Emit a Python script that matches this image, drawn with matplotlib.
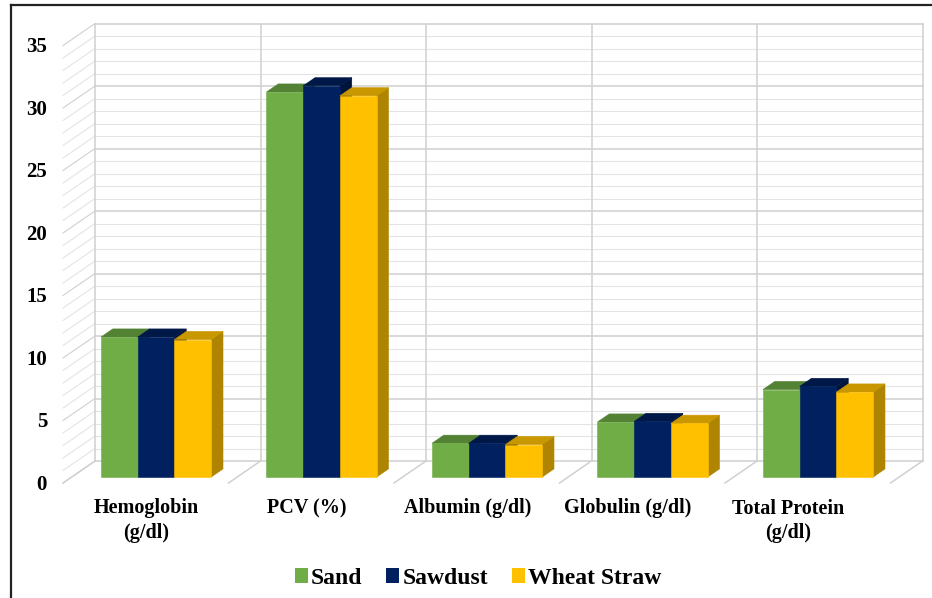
"""
Blood parameters by bedding material: Excel-style 3D clustered column chart,
drawn with plain matplotlib patches on an oblique projection.
"""

import matplotlib
matplotlib.use("Agg")
import matplotlib.pyplot as plt
from matplotlib.patches import Polygon, Patch

# ── Data ──────────────────────────────────────────────────────────────────────
categories = ["Hemoglobin\n(g/dl)", "PCV (%)", "Albumin (g/dl)",
              "Globulin (g/dl)", "Total Protein\n(g/dl)"]
series     = ["Sand", "Sawdust", "Wheat Straw"]

sand        = [11.2, 30.8, 2.7, 4.4, 7.0]
sawdust     = [11.2, 31.3, 2.7, 4.45, 7.25]
wheat_straw = [11.0, 30.5, 2.6, 4.3, 6.8]

y_ticks = [0, 5, 10, 15, 20, 25, 30, 35]

# ── Style ─────────────────────────────────────────────────────────────────────
FACE = {  # front, top, side
    "Sand":        ("#70AD47", "#548235", "#466F2C"),
    "Sawdust":     ("#002060", "#001848", "#00133A"),
    "Wheat Straw": ("#FFC000", "#C99700", "#AF8400"),
}
FONT = "Liberation Serif"

# Oblique projection (back wall at t=0, front edge of floor at t=1)
PX_CAT, PX_VAL = 165.5, 12.5          # pixels per category / per value unit
ORIGIN_X, ORIGIN_Y = 95, 461          # back-wall origin in pixels
DX, DY = 32 / PX_CAT, 22 / PX_VAL     # full depth offset in data units
T_BACK, T_FRONT = 0.36, 0.73          # bar depth range
BAR_W = 0.222
Y_MAX = 35


def proj(x, y, t):
    return (x - t * DX, y - t * DY)


fig = plt.figure(figsize=(9.32, 5.98), dpi=100)
ax = fig.add_axes([0, 0, 1, 1])
ax.set_xlim(-ORIGIN_X / PX_CAT, (932 - ORIGIN_X) / PX_CAT)
ax.set_ylim((ORIGIN_Y - 598) / PX_VAL, ORIGIN_Y / PX_VAL)
ax.axis("off")

n_cat = len(categories)

# ── Walls & floor ─────────────────────────────────────────────────────────────
for k in range(Y_MAX + 1):
    major = k % 5 == 0
    col = "#d0d0d0" if major else "#e4e4e4"
    lw = 1.1 if major else 0.8
    ax.plot([0, n_cat], [k, k], color=col, lw=lw, zorder=1)
    sx, sy = proj(0, k, 1)
    ax.plot([0, sx], [k, sy], color=col, lw=0.8, zorder=1)

for i in range(n_cat + 1):
    ax.plot([i, i], [0, Y_MAX], color="#d0d0d0", lw=1.1, zorder=1)
    fx, fy = proj(i, 0, 1)
    ax.plot([i, fx], [0, fy], color="#d0d0d0", lw=1.1, zorder=1)

# ── Bars ──────────────────────────────────────────────────────────────────────
values = [sand, sawdust, wheat_straw]
z = 3
for i in range(n_cat):
    for j, name in enumerate(series):
        v = values[j][i]
        front, top, side = FACE[name]
        x0 = i + 0.51 + (j - 1.5) * BAR_W
        x1 = x0 + BAR_W
        side_pts = [proj(x1, 0, T_FRONT), proj(x1, v, T_FRONT),
                    proj(x1, v, T_BACK), proj(x1, 0, T_BACK)]
        top_pts = [proj(x0, v, T_FRONT), proj(x1, v, T_FRONT),
                   proj(x1, v, T_BACK), proj(x0, v, T_BACK)]
        front_pts = [proj(x0, 0, T_FRONT), proj(x1, 0, T_FRONT),
                     proj(x1, v, T_FRONT), proj(x0, v, T_FRONT)]
        for pts, c in ((side_pts, side), (top_pts, top), (front_pts, front)):
            ax.add_patch(Polygon(pts, closed=True, fc=c, ec=c, lw=0.4, zorder=z))
            z += 1

# ── Tick & category labels ────────────────────────────────────────────────────
for k in y_ticks:
    ax.text(-0.29, k - 1.9, str(k), ha="right", va="center",
            fontsize=15, fontweight="bold", family=FONT)

for i, lab in enumerate(categories):
    ax.text(0.31 + 0.97 * i, -3.0, lab, ha="center", va="top",
            fontsize=14.5, fontweight="bold", family=FONT, linespacing=1.3)

# ── Legend ────────────────────────────────────────────────────────────────────
handles = [Patch(fc=FACE[s][0], ec="none", label=s) for s in series]
fig.legend(handles=handles, loc="center", bbox_to_anchor=(0.513, 0.033),
           ncol=3, frameon=False, handlelength=0.55, handleheight=0.55,
           handletextpad=0.15, columnspacing=1.0,
           prop={"family": FONT, "weight": "bold", "size": 17})

# Outer frame (top & left edges visible in the original crop)
fig.add_artist(plt.Line2D([10.5 / 932, 1], [1 - 5 / 598] * 2,
                          transform=fig.transFigure, color="#222222", lw=1.6))
fig.add_artist(plt.Line2D([11 / 932] * 2, [0, 1 - 5 / 598],
                          transform=fig.transFigure, color="#222222", lw=1.6))

fig.savefig("out.png", dpi=100)
